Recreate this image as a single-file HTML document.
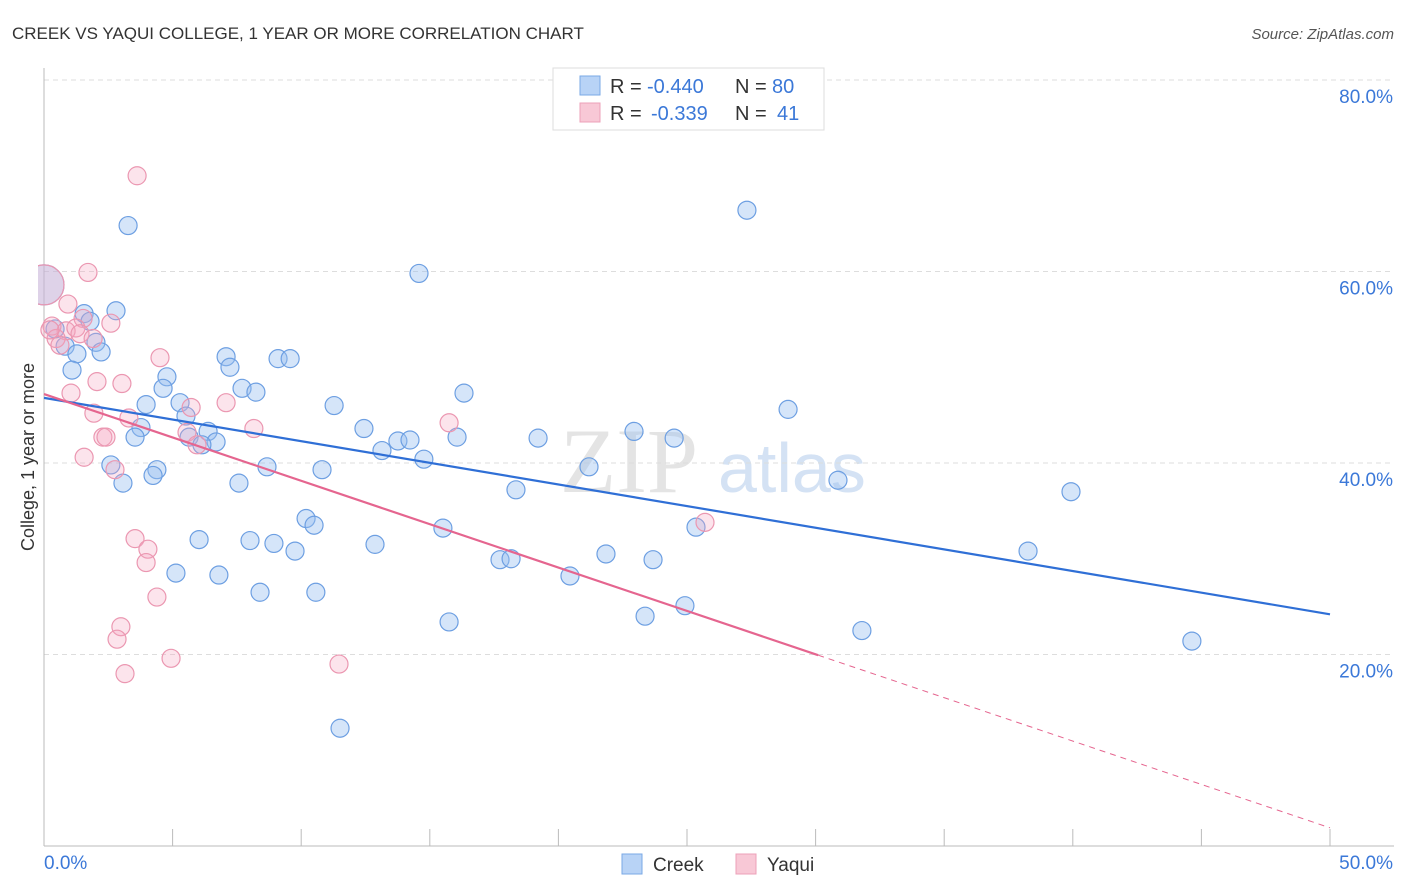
<!DOCTYPE html>
<html><head><meta charset="utf-8"><style>
body{margin:0;background:#fff;font-family:"Liberation Sans",sans-serif}
svg{display:block}
</style></head><body>
<svg id="c" width="1406" height="892">
<defs><clipPath id="pc"><rect x="38" y="60" width="1360" height="790"/></clipPath></defs>
<text x="12" y="39" font-size="17" fill="#333">CREEK VS YAQUI COLLEGE, 1 YEAR OR MORE CORRELATION CHART</text>
<text x="1394" y="39" font-size="15" fill="#555" font-style="italic" text-anchor="end">Source: ZipAtlas.com</text>
<text x="560" y="492" font-size="92" fill="#e4e4e4" font-family="Liberation Serif,serif">ZIP</text>
<text x="718" y="492" font-size="70" fill="#d4e2f4">atlas</text>
<g id="grid"></g>
<g id="marks" clip-path="url(#pc)"></g>
<text transform="translate(34,457) rotate(-90)" font-size="18" fill="#333" text-anchor="middle">College, 1 year or more</text>
<g>
<rect x="553" y="68" width="271" height="62" fill="#fff" stroke="#ddd"/>
<rect x="580" y="76" width="20" height="19" fill="#b8d3f6" stroke="#7aa8e6"/>
<rect x="580" y="103" width="20" height="19" fill="#f8c8d6" stroke="#eda0b8"/>
<text x="610" y="93" font-size="20" fill="#333">R =</text>
<text x="647" y="93" font-size="20" fill="#3b78d8">-0.440</text>
<text x="735" y="93" font-size="20" fill="#333">N =</text>
<text x="772" y="93" font-size="20" fill="#3b78d8">80</text>
<text x="610" y="120" font-size="20" fill="#333">R =</text>
<text x="651" y="120" font-size="20" fill="#3b78d8">-0.339</text>
<text x="735" y="120" font-size="20" fill="#333">N =</text>
<text x="777" y="120" font-size="20" fill="#3b78d8">41</text>
</g>
<g>
<rect x="622" y="854" width="20" height="20" fill="#b8d3f6" stroke="#7aa8e6"/>
<text x="653" y="871" font-size="19" fill="#333">Creek</text>
<rect x="736" y="854" width="20" height="20" fill="#f8c8d6" stroke="#eda0b8"/>
<text x="767" y="871" font-size="19" fill="#333">Yaqui</text>
</g>
</svg>
<script>
const creekX=[3.27,27.33,14.58,0,2.80,1.56,1.79,0.43,2.02,0.82,2.22,1.28,1.09,7.08,7.23,9.10,9.57,4.78,4.63,7.70,8.24,16.33,5.29,3.97,11.28,28.93,5.52,3.77,12.44,6.38,3.54,5.64,6.69,6.14,13.76,14.23,16.06,19.21,22.94,24.50,13.14,14.77,2.60,8.67,10.81,4.39,4.24,21.19,3.07,7.58,18.35,30.87,39.93,10.19,10.50,15.51,25.35,38.26,6.03,8.01,8.94,12.87,21.85,17.73,18.16,23.68,5.13,6.80,9.76,8.40,10.57,20.45,24.92,23.37,15.75,31.80,44.63,11.51];
const creekY=[64.8,66.4,59.8,58.6,55.9,55.6,54.8,54.0,52.6,52.2,51.6,51.4,49.7,51.1,50.0,50.9,50.9,49.0,47.8,47.8,47.4,47.3,46.3,46.1,46.0,45.6,44.9,43.7,43.6,43.3,42.7,42.7,42.2,41.9,42.3,42.4,42.7,42.6,43.3,42.6,41.3,40.4,39.8,39.6,39.3,39.3,38.7,39.6,37.9,37.9,37.2,38.2,37.0,34.2,33.5,33.2,33.3,30.8,32.0,31.9,31.6,31.5,30.5,29.9,30.0,29.9,28.5,28.3,30.8,26.5,26.5,28.2,25.1,24.0,23.4,22.5,21.4,12.3];
const yaquiX=[3.62,1.71,0,0.93,1.52,2.60,0.31,0.86,1.24,1.40,1.91,0.47,0.62,4.51,2.06,3.03,1.05,5.72,7.08,1.94,3.30,15.75,8.16,5.56,2.29,2.41,5.95,1.56,2.76,3.54,4.04,3.97,4.39,2.99,2.84,4.94,3.15,11.47,25.70,0.23];
const yaquiY=[70.0,59.9,58.6,56.6,55.1,54.6,54.3,53.8,54.1,53.5,53.0,53.0,52.3,51.0,48.5,48.3,47.3,45.8,46.3,45.2,44.7,44.2,43.6,43.2,42.7,42.7,41.9,40.6,39.3,32.1,31.0,29.6,26.0,22.9,21.6,19.6,18.0,19.0,33.8,53.9];
const trendB=[46.8,24.2], trendP=[47.2,1.9], pinkSolidEnd=30.1;
const xTicks=["0.0%","50.0%"], yTicks=[20,40,60,80];
const X=v=>44+v/50*1286, Y=v=>846-v/20*191.5;
const NS="http://www.w3.org/2000/svg";
function mk(t,a,p){const e=document.createElementNS(NS,t);for(const k in a)e.setAttribute(k,a[k]);p.appendChild(e);return e;}
const g=document.getElementById('grid'), m=document.getElementById('marks');
yTicks.forEach(t=>{
 const l=mk('line',{x1:44,x2:1394,y1:Y(t),y2:Y(t),stroke:'#ddd','stroke-dasharray':'5,4'},g);
 
 
 const tx=mk('text',{x:1393,y:Y(t)+23,'font-size':19,fill:'#3b78d8','text-anchor':'end'},g);tx.textContent=t.toFixed(1)+'%';
 
 
});
const ax=mk('line',{x1:44,x2:44,y1:68,y2:846,stroke:'#bbb'},g);


const bx=mk('line',{x1:44,x2:1394,y1:846,y2:846,stroke:'#bbb'},g);


for(let i=0;i<=10;i++){const tk=mk('line',{x1:X(i*5),x2:X(i*5),y1:829,y2:846,stroke:'#bbb'},g);
 
 }
const t0=mk('text',{x:44,y:869,'font-size':19,fill:'#3b78d8'},g);t0.textContent=xTicks[0];


const t1=mk('text',{x:1393,y:869,'font-size':19,fill:'#3b78d8','text-anchor':'end'},g);t1.textContent=xTicks[1];


function pts(xs,ys,fill,stroke,name){xs.forEach((x,i)=>{const big=(x===0&&Math.abs(ys[i]-58.6)<0.1);
 const c=mk('circle',{cx:X(x),cy:Y(ys[i]),r:big?20:9,fill:fill,stroke:stroke,'stroke-width':1.2},m);
 
 });}
pts(creekX,creekY,'rgba(150,190,240,0.4)','#6d9fe2','creek-point');
pts(yaquiX,yaquiY,'rgba(244,166,192,0.3)','#eb97b1','yaqui-point');
const lb=mk('line',{x1:X(0),y1:Y(trendB[0]),x2:X(50),y2:Y(trendB[1]),stroke:'#2f6fd6','stroke-width':2.2},m);


const pe=trendP[0]+(trendP[1]-trendP[0])*pinkSolidEnd/50;
const lp=mk('line',{x1:X(0),y1:Y(trendP[0]),x2:X(pinkSolidEnd),y2:Y(pe),stroke:'#e5658f','stroke-width':2.2},m);


const lpd=mk('line',{x1:X(pinkSolidEnd),y1:Y(pe),x2:X(50),y2:Y(trendP[1]),stroke:'#e5658f','stroke-width':1,'stroke-dasharray':'6,5'},m);


</script>
</body></html>
